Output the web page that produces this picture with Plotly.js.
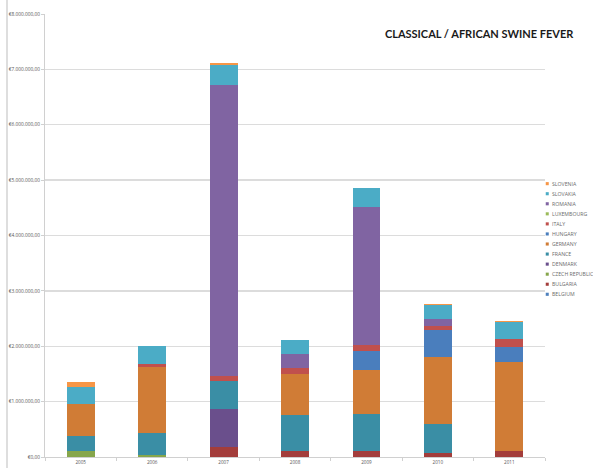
<!DOCTYPE html>
<html>
<head>
<meta charset="utf-8">
<script src="https://cdn.plot.ly/plotly-3.0.1.min.js"></script>
<style>html,body{margin:0;padding:0;background:#fff;}#chart{width:593px;height:468px;}</style>
</head>
<body>
<div id="chart"></div>
<script>
// Categories (years)
const years = ["2005", "2006", "2007", "2008", "2009", "2010", "2011"];
// Series names, bottom of stack first
const countries = ["BELGIUM", "BULGARIA", "CZECH REPUBLIC", "DENMARK", "FRANCE", "GERMANY",
                   "HUNGARY", "ITALY", "LUXEMBOURG", "ROMANIA", "SLOVAKIA", "SLOVENIA"];
// Values in EUR
const belgium    = [0, 0, 0, 0, 0, 0, 0];
const bulgaria   = [0, 0, 175000, 115000, 100000, 80000, 110000];
const czech      = [100000, 40000, 0, 0, 0, 0, 0];
const denmark    = [0, 0, 685000, 0, 0, 0, 0];
const france     = [285000, 400000, 510000, 635000, 670000, 520000, 0];
const germany    = [568000, 1180000, 0, 750000, 800000, 1200000, 1600000];
const hungary    = [0, 0, 0, 0, 350000, 500000, 270000];
const italy      = [0, 60000, 100000, 100000, 100000, 70000, 150000];
const luxembourg = [0, 0, 0, 0, 0, 0, 0];
const romania    = [0, 0, 5240000, 260000, 2500000, 120000, 0];
const slovakia   = [307000, 320000, 370000, 250000, 330000, 255000, 300000];
const slovenia   = [90000, 10000, 30000, 10000, 5000, 15000, 20000];

const seriesValues = [belgium, bulgaria, czech, denmark, france, germany,
                      hungary, italy, luxembourg, romania, slovakia, slovenia];
const colors = ["#4F81BD", "#A33D3B", "#86A64B", "#6A4F8C", "#3A8EA5", "#D07C36",
                "#4A7EBD", "#C0504D", "#9BBB59", "#8064A2", "#4BACC6", "#F79646"];

const traces = countries.map((name, i) => ({
  type: "bar",
  name: name,
  x: years,
  y: seriesValues[i],
  marker: {color: colors[i], line: {width: 0}},
  hoverinfo: "x+y+name"
}));

// Custom compact legend (top entry = last series)
const annotations = [];
const shapes = [];
const legTop = 0.617, legStep = 0.0227;
for (let k = 0; k < countries.length; k++) {
  const i = countries.length - 1 - k;
  const yy = legTop - k * legStep;
  shapes.push({type: "rect", xref: "paper", yref: "paper",
    x0: 1.0015, x1: 1.0075, y0: yy - 0.0035, y1: yy + 0.0035,
    fillcolor: colors[i], line: {width: 0}});
  annotations.push({xref: "paper", yref: "paper", x: 1.0095, y: yy,
    xanchor: "left", yanchor: "middle", showarrow: false,
    text: countries[i], font: {family: "Open Sans", size: 5.2, color: "#6b6b6b"}});
}
// outer frame line on left
shapes.push({type: "line", xref: "paper", yref: "paper", x0: -0.076, x1: -0.076, y0: -0.03, y1: 1.04,
  line: {color: "#bdbdbd", width: 1}});

const layout = {
  width: 593, height: 468,
  margin: {l: 45, r: 48, t: 14, b: 11},
  paper_bgcolor: "#ffffff", plot_bgcolor: "#ffffff",
  barmode: "stack", bargap: 0.61,
  showlegend: false,
  separators: ",.",
  title: {text: "CLASSICAL / AFRICAN SWINE FEVER", xref: "container", yref: "container",
    x: 0.808, xanchor: "center", y: 0.926, yanchor: "middle",
    font: {family: "Lato", size: 11, color: "#1a1a1a", weight: "bold"}},
  xaxis: {type: "category", showgrid: false, showline: true, linecolor: "#d0d0d0", linewidth: 1,
    ticks: "outside", tickson: "boundaries", ticklen: 3, tickcolor: "#d0d0d0",
    tickfont: {family: "Open Sans", size: 4.6, color: "#555"}, zeroline: false},
  yaxis: {range: [0, 8000000], tick0: 0, dtick: 1000000, tickprefix: "€", tickformat: ",.2f",
    showgrid: true, gridcolor: "#dcdcdc", gridwidth: 1.3, showline: true, linecolor: "#d0d0d0",
    ticks: "outside", ticklen: 3, tickcolor: "#d0d0d0", zeroline: false,
    tickfont: {family: "Open Sans", size: 4.8, color: "#555"}},
  annotations: annotations,
  shapes: shapes
};

Plotly.newPlot("chart", traces, layout, {displayModeBar: false, staticPlot: true});
</script>
</body>
</html>
